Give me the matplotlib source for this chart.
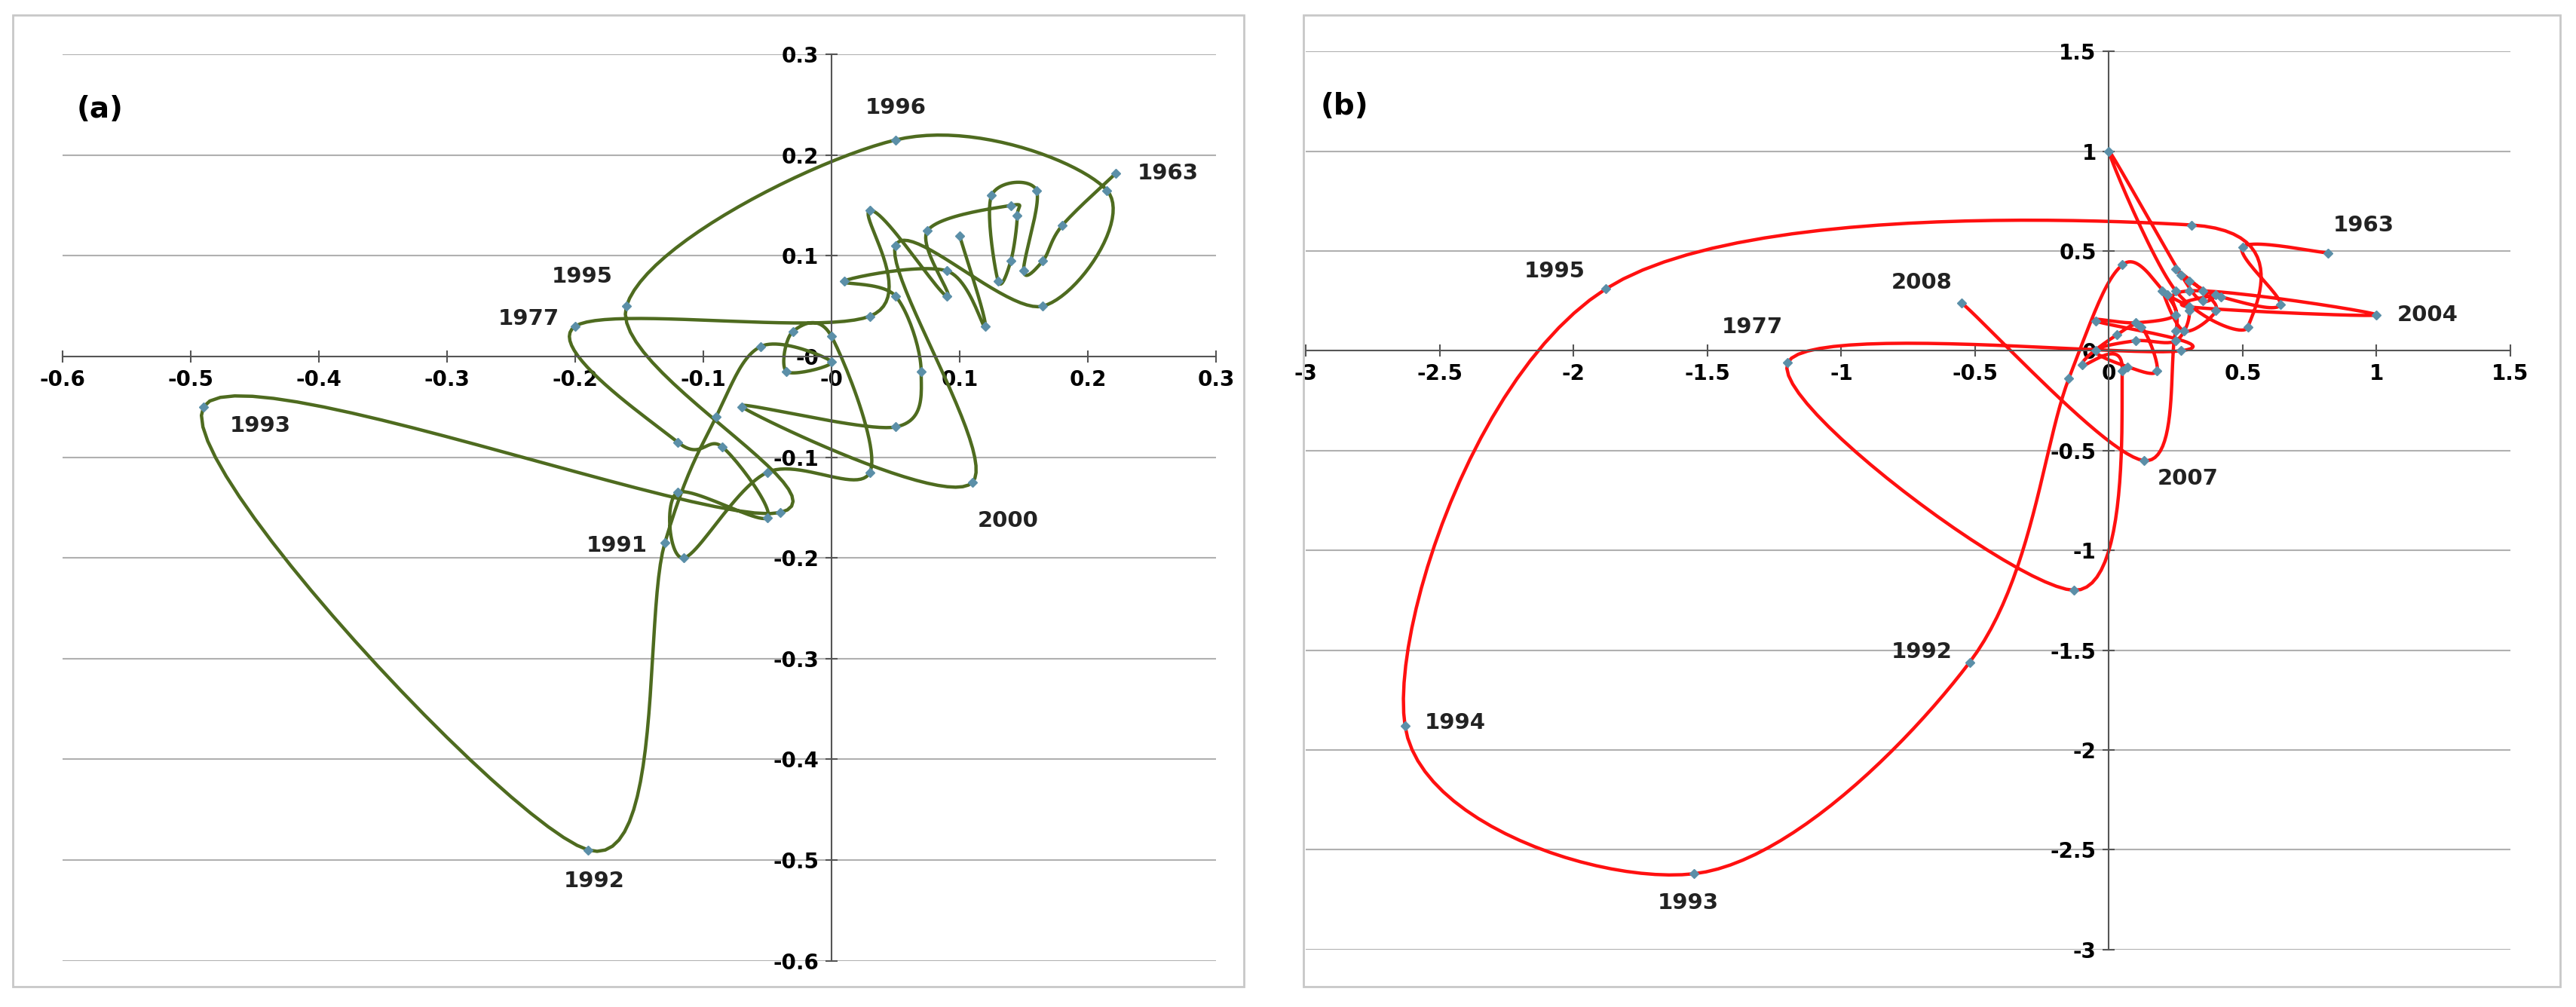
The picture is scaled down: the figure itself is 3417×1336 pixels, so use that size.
import numpy as np
import matplotlib.pyplot as plt
from matplotlib.patches import Rectangle

years = list(range(1963, 2009))

# panel (a) trajectory, one point per year 1963..2008
xa = [0.222, 0.18, 0.165, 0.15, 0.16, 0.125, 0.13, 0.14, 0.145, 0.14, 0.075, 0.09, 0.03, 0.03,
      -0.2, -0.12, -0.085, -0.05, -0.12, -0.115, -0.05, 0.03, 0.0, -0.03, -0.035, 0.0, -0.055, -0.09,
      -0.13, -0.19, -0.49, -0.04, -0.16, 0.05, 0.215, 0.165, 0.05, 0.11, -0.07, 0.05, 0.07,
      0.05, 0.01, 0.09, 0.12, 0.1]
ya = [0.182, 0.13, 0.095, 0.085, 0.165, 0.16, 0.075, 0.095, 0.14, 0.15, 0.125, 0.06, 0.145, 0.04,
      0.03, -0.085, -0.09, -0.16, -0.135, -0.2, -0.115, -0.115, 0.02, 0.025, -0.015, -0.005, 0.01, -0.06,
      -0.185, -0.49, -0.05, -0.155, 0.05, 0.215, 0.165, 0.05, 0.11, -0.125, -0.05, -0.07, -0.015,
      0.06, 0.075, 0.085, 0.03, 0.12]
# label offsets (points) of the year labels from their marker
labels_a = {1963: (50, 0), 1977: (-44, 7), 1991: (-46, -3), 1992: (6, -30), 1993: (54, -18),
            1995: (-42, 28), 1996: (0, 31), 2000: (34, -37)}

# panel (b) trajectory
xb = [0.82, 0.5, 0.64, 0.42, 0.3, 0.25, 0.35, 0.4, 0.28, 0.2, 0.25, 0.1, -0.05, 0.27,
      -1.2, -0.13, 0.05, -0.1, 0.03, 0.12, 0.18, 0.07, -0.05, 0.1, 0.25, 0.3, 0.22, 0.05,
      -0.15, -0.52, -1.55, -2.63, -1.88, 0.31, 0.52, 0.25, 0.0, 0.27, 0.35, 0.4, 0.3,
      1.0, 0.3, 0.25, 0.13, -0.55]
yb = [0.49, 0.52, 0.23, 0.27, 0.35, 0.41, 0.3, 0.2, 0.1, 0.3, 0.18, 0.14, 0.15, 0.0,
      -0.06, -1.2, -0.1, -0.07, 0.08, 0.12, -0.1, -0.08, 0.0, 0.05, 0.05, 0.2, 0.28, 0.43,
      -0.14, -1.56, -2.62, -1.88, 0.31, 0.63, 0.12, 0.3, 1.0, 0.38, 0.25, 0.28, 0.22,
      0.18, 0.3, 0.1, -0.55, 0.24]
labels_b = {1963: (34, 26), 1977: (-34, 34), 1992: (-46, 10), 1993: (-6, -28), 1994: (48, 3),
            1995: (-49, 17), 2004: (49, 0), 2007: (42, -17), 2008: (-38, 19)}


def smooth(x, y, n=24):
    # Catmull-Rom curve through the points, similar to a spreadsheet smoothed line
    p = np.column_stack([x, y])
    p = np.vstack([p[0], p, p[-1]])
    out = []
    t = np.linspace(0, 1, n, endpoint=False)[:, None]
    for i in range(1, len(p) - 2):
        p0, p1, p2, p3 = p[i - 1], p[i], p[i + 1], p[i + 2]
        seg = 0.5 * ((2 * p1) + (-p0 + p2) * t + (2 * p0 - 5 * p1 + 4 * p2 - p3) * t ** 2
                     + (-p0 + 3 * p1 - 3 * p2 + p3) * t ** 3)
        out.append(seg)
    out.append(p[-2][None, :])
    out = np.vstack(out)
    return out[:, 0], out[:, 1]


def panel(fig, rect, x, y, labels, color, xlim, ylim, step, tag):
    ax = fig.add_axes(rect)
    ax.set_xlim(*xlim)
    ax.set_ylim(*ylim)
    for v in np.arange(ylim[0], ylim[1] + 1e-9, step):
        if abs(v) > 1e-9:
            ax.axhline(v, color='#b0b0b0', lw=1.5, zorder=0)
    sx, sy = smooth(x, y)
    ax.plot(sx, sy, color=color, lw=3.2, zorder=2)
    ax.plot(x, y, ls='none', marker='D', ms=6, color='#5b8fa8', mec='#5b8fa8', zorder=3)
    for yr, off in labels.items():
        i = years.index(yr)
        ax.annotate(str(yr), (x[i], y[i]), xytext=off, textcoords='offset points',
                    ha='center', va='center', fontsize=21, fontweight='bold', color='#222222')
    ax.spines['left'].set_position(('data', 0))
    ax.spines['bottom'].set_position(('data', 0))
    ax.spines['right'].set_visible(False)
    ax.spines['top'].set_visible(False)
    for s in ('left', 'bottom'):
        ax.spines[s].set_color('#555555')
        ax.spines[s].set_linewidth(1.5)
    xt = np.arange(xlim[0], xlim[1] + 1e-9, step)
    yt = np.arange(ylim[0], ylim[1] + 1e-9, step)
    ax.set_xticks(xt)
    ax.set_yticks(yt)
    fmt = lambda v: ('%g' % round(v, 2))
    ax.set_xticklabels([fmt(v) for v in xt])
    ax.set_yticklabels([fmt(v) for v in yt])
    ax.tick_params(direction='inout', length=12, width=1.5, color='#555555',
                   labelsize=20, pad=6)
    for t in ax.get_xticklabels() + ax.get_yticklabels():
        t.set_fontweight('bold')
    ax.text(0.012, 0.955, tag, transform=ax.transAxes, fontsize=28, fontweight='bold',
            va='top')
    return ax


fig = plt.figure(figsize=(34.17, 13.36), dpi=100)
fig.patches.append(Rectangle((0.005, 0.02), 0.478, 0.965, transform=fig.transFigure,
                             fill=False, ec='#c8c8c8', lw=2))
fig.patches.append(Rectangle((0.506, 0.02), 0.488, 0.965, transform=fig.transFigure,
                             fill=False, ec='#c8c8c8', lw=2))
panel(fig, [0.0243, 0.046, 0.4477, 0.9], xa, ya, labels_a, '#4e6b1f',
      (-0.6, 0.3), (-0.6, 0.3), 0.1, '(a)')
panel(fig, [0.507, 0.057, 0.4675, 0.892], xb, yb, labels_b, '#ff1010',
      (-3, 1.5), (-3, 1.5), 0.5, '(b)')
fig.savefig('out.png', dpi=100)
